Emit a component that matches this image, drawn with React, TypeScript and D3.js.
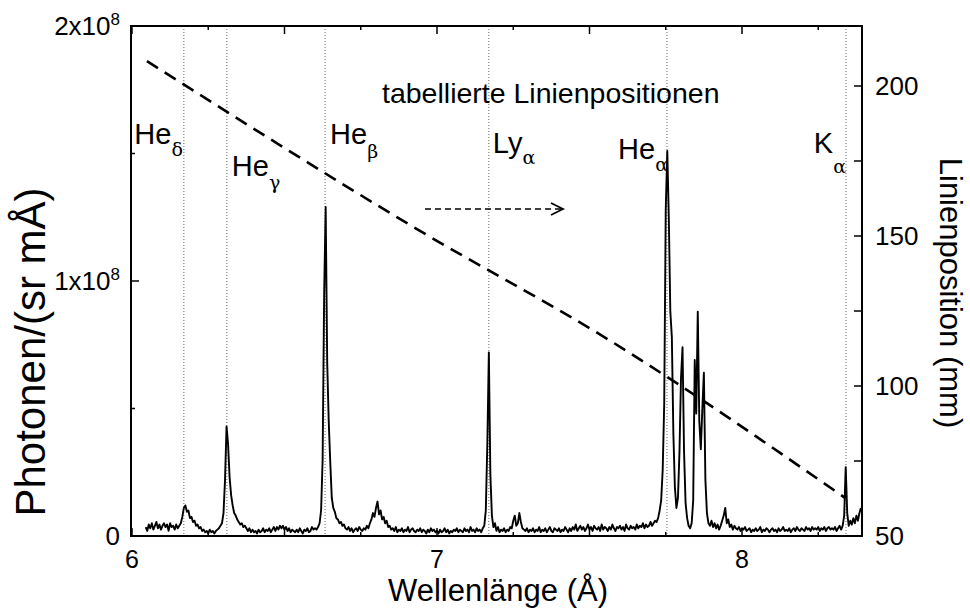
import React from 'react';
import * as d3 from 'd3';

const width = 970;
const height = 610;
const plot = { left: 131, right: 862, top: 26, bottom: 536 };

// spectrum sampled every 0.005 Å starting at 6.045 Å, values in 1e6 photons/(sr mÅ)
const spectrumStart = 6.045;
const spectrumStep = 0.005;
const spectrum = [
  3.5, 2.0, 4.5, 3.0, 5.0, 2.5, 4.0, 5.5, 3.0, 4.5, // 6.045
  2.5, 4.0, 5.0, 3.5, 4.5, 2.0, 5.0, 3.5, 4.0, 2.5, // 6.095
  4.5, 3.0, 4.0, 5.0, 7.5, 11.0, 12.0, 9.5, 10.0, 7.0, // 6.145
  7.5, 5.5, 6.0, 4.0, 4.5, 3.0, 3.5, 2.0, 2.5, 1.5, // 6.195
  2.0, 1.0, 2.5, 1.5, 2.0, 1.0, 2.0, 2.5, 3.0, 4.0, // 6.245
  5.0, 9.0, 22.0, 43.0, 36.0, 23.0, 16.0, 12.0, 9.0, 8.0, // 6.295
  6.5, 5.5, 4.5, 5.0, 3.5, 4.0, 3.0, 2.0, 3.0, 1.5, // 6.345
  2.5, 1.5, 2.0, 1.0, 2.5, 1.5, 2.0, 3.0, 1.5, 2.5, // 6.395
  2.0, 3.0, 1.5, 2.5, 3.5, 2.0, 3.5, 2.5, 4.0, 3.0, // 6.445
  4.0, 2.5, 3.5, 2.0, 3.0, 1.5, 2.5, 2.0, 1.5, 2.5, // 6.495
  1.5, 3.0, 2.0, 1.0, 2.5, 2.0, 3.0, 1.5, 2.0, 3.5, // 6.545
  2.5, 3.0, 2.5, 3.5, 5.0, 10.0, 30.0, 95.0, 129.0, 68.0, // 6.595
  45.0, 29.0, 15.0, 11.0, 9.5, 7.0, 6.5, 5.0, 5.5, 4.0, // 6.645
  4.5, 3.0, 2.5, 3.5, 2.0, 3.0, 1.5, 2.5, 3.0, 2.0, // 6.695
  3.5, 2.5, 2.0, 3.0, 2.5, 4.0, 3.0, 5.0, 6.5, 9.0, // 6.745
  7.5, 11.0, 13.5, 8.5, 10.0, 6.5, 7.5, 5.0, 6.0, 3.5, // 6.795
  4.0, 2.5, 3.0, 2.0, 3.5, 1.5, 2.5, 2.0, 3.0, 1.5, // 6.845
  2.5, 2.0, 3.5, 1.5, 2.5, 3.0, 2.0, 1.5, 2.5, 2.0, // 6.895
  3.0, 1.5, 2.5, 2.0, 1.0, 2.5, 1.5, 3.0, 2.0, 2.5, // 6.945
  1.5, 2.0, 1.0, 2.5, 1.5, 2.0, 3.0, 1.5, 2.5, 1.0, // 6.995
  2.0, 1.5, 2.5, 2.0, 3.0, 1.5, 2.5, 2.0, 1.5, 3.0, // 7.045
  2.0, 2.5, 1.5, 3.5, 2.0, 2.5, 1.5, 3.0, 2.0, 2.5, // 7.095
  1.5, 3.0, 4.0, 10.0, 36.0, 72.0, 24.0, 8.0, 3.5, 5.0, // 7.145
  2.0, 3.5, 1.5, 2.5, 2.0, 3.0, 1.5, 2.5, 2.0, 3.5, // 7.195
  3.0, 6.0, 8.0, 4.0, 5.0, 9.0, 5.5, 3.0, 2.5, 2.0, // 7.245
  3.0, 1.5, 2.5, 2.0, 3.0, 1.5, 2.5, 2.0, 3.5, 1.5, // 7.295
  2.5, 2.0, 3.0, 1.5, 2.5, 3.5, 2.0, 1.5, 3.0, 2.5, // 7.345
  2.0, 3.0, 1.5, 2.5, 2.0, 3.5, 2.5, 1.5, 3.0, 2.0, // 7.395
  3.5, 2.5, 4.5, 2.0, 3.0, 4.0, 2.5, 3.5, 2.0, 3.0, // 7.445
  4.5, 2.5, 3.5, 2.0, 4.0, 3.0, 2.5, 3.5, 2.0, 4.5, // 7.495
  2.5, 3.5, 3.0, 2.0, 3.5, 2.5, 4.5, 3.0, 2.0, 3.5, // 7.545
  3.0, 4.0, 2.5, 3.5, 2.0, 4.5, 3.0, 2.5, 4.0, 3.0, // 7.595
  3.5, 2.5, 4.5, 3.0, 4.0, 3.5, 5.0, 3.0, 4.5, 3.5, // 7.645
  4.0, 5.5, 4.0, 5.0, 6.0, 5.5, 7.0, 10.0, 14.0, 26.0, // 7.695
  52.0, 128.0, 151.0, 125.0, 88.0, 78.0, 40.0, 19.0, 11.0, 15.0, // 7.745
  33.0, 62.0, 74.0, 33.0, 13.0, 7.0, 4.0, 3.0, 5.0, 14.0, // 7.795
  69.0, 48.0, 88.0, 45.0, 34.0, 50.0, 64.0, 22.0, 9.0, 5.0, // 7.845
  4.0, 6.0, 3.5, 5.0, 3.0, 4.5, 2.5, 4.0, 6.0, 8.0, // 7.895
  11.0, 5.0, 6.5, 3.5, 4.5, 2.5, 4.0, 3.0, 2.5, 3.5, // 7.945
  2.0, 3.0, 2.5, 3.5, 2.0, 2.5, 3.0, 1.5, 2.5, 2.0, // 7.995
  3.0, 2.0, 2.5, 3.5, 1.5, 2.5, 2.0, 3.0, 2.5, 1.5, // 8.045
  2.5, 3.0, 2.0, 2.5, 1.5, 3.0, 2.0, 2.5, 3.5, 2.0, // 8.095
  2.5, 2.0, 3.0, 1.5, 2.5, 3.0, 2.0, 3.5, 2.5, 2.0, // 8.145
  3.0, 2.5, 2.0, 3.5, 2.5, 3.0, 2.0, 3.5, 2.5, 3.0, // 8.195
  2.5, 3.5, 2.0, 3.0, 2.5, 3.5, 2.0, 3.0, 3.5, 2.5, // 8.245
  3.0, 2.5, 3.5, 2.0, 3.0, 4.0, 2.5, 4.0, 8.0, 27.0, // 8.295
  9.0, 4.0, 6.0, 4.5, 7.0, 5.0, 8.0, 6.0, 9.0, 11.0, // 8.345
];

// dispersion: line position (mm) vs wavelength (Å)
const positionCurve: [number, number][] = [
  [6.049, 208.3],
  [6.921, 153.1],
  [7.574, 114.7],
  [8.338, 62.7],
];

// tabulated line positions
const lineNames = ['He', 'He', 'He', 'Ly', 'He', 'K'];
const lineSubs = ['δ', 'γ', 'β', 'α', 'α', 'α'];
const lineWavelengths = [6.17, 6.311, 6.633, 7.17, 7.754, 8.341];

const xMajorTicks = [6, 7, 8];
const yLeftTicks = [0, 0.5e8, 1e8, 1.5e8, 2e8];
const yLeftLabels = [
  { v: 0, base: '0', exp: '' },
  { v: 1e8, base: '1x10', exp: '8' },
  { v: 2e8, base: '2x10', exp: '8' },
];
const yRightTicks = [50, 75, 100, 125, 150, 175, 200];
const yRightLabels = [50, 100, 150, 200];

// label layout (pixel offsets for the annotations)
const labelLayout = [
  { anchor: 'end', dx: -1, y: 144, subDy: 12 },
  { anchor: 'start', dx: 5, y: 176, subDy: 13 },
  { anchor: 'start', dx: 5, y: 144, subDy: 14 },
  { anchor: 'start', dx: 4, y: 153, subDy: 11 },
  { anchor: 'end', dx: 1, y: 159, subDy: 12 },
  { anchor: 'end', dx: 0, y: 153, subDy: 20 },
];

const font = '"Liberation Sans", Arial, Helvetica, sans-serif';

export default function App() {
  const x = d3.scaleLinear().domain([6, 6 + (plot.right - plot.left - 1) / 305]).range([plot.left + 1, plot.right]);
  const y = d3.scaleLinear().domain([0, 2e8]).range([plot.bottom, plot.top]);
  const yR = d3.scaleLinear().domain([50, 50 + (plot.bottom - plot.top) / 3]).range([plot.bottom, plot.top]);

  const points = spectrum.map((v, i) => [spectrumStart + i * spectrumStep, v * 1e6] as [number, number]);
  const spectrumPath = d3
    .line<[number, number]>()
    .x(d => x(d[0]))
    .y(d => y(d[1]))(points);

  const positionPath = d3
    .line<[number, number]>()
    .x(d => x(d[0]))
    .y(d => yR(d[1]))
    .curve(d3.curveMonotoneX)(positionCurve);

  const xTicks = d3.range(6, 8.39, 0.25);

  const arrowY = 209;
  const arrowX0 = 425;
  const arrowX1 = 563;

  return (
    <svg
      width={width}
      height={height}
      style={{ position: 'absolute', left: 0, top: 0, background: '#fff' }}
      fontFamily={font}
    >
      <rect x={0} y={0} width={width} height={height} fill="#fff" />

      {/* tabulated line positions */}
      {lineWavelengths.map((w, i) => (
        <line
          key={'v' + i}
          x1={x(w)}
          x2={x(w)}
          y1={plot.top}
          y2={plot.bottom}
          stroke="#666"
          strokeWidth={1}
          strokeDasharray="1,2"
        />
      ))}

      {/* spectrum */}
      <path d={spectrumPath || ''} fill="none" stroke="#000" strokeWidth={1.9} strokeLinejoin="round" />

      {/* line position curve */}
      <path d={positionPath || ''} fill="none" stroke="#000" strokeWidth={2.6} strokeDasharray="13,8" />

      {/* arrow toward right axis */}
      <line x1={arrowX0} x2={arrowX1 - 2} y1={arrowY} y2={arrowY} stroke="#000" strokeWidth={1.5} strokeDasharray="6,4" />
      <polyline
        points={`${arrowX1 - 12},${arrowY - 6} ${arrowX1},${arrowY} ${arrowX1 - 12},${arrowY + 6}`}
        fill="none"
        stroke="#000"
        strokeWidth={1.8}
      />

      {/* frame */}
      <rect
        x={plot.left}
        y={plot.top}
        width={plot.right - plot.left}
        height={plot.bottom - plot.top}
        fill="none"
        stroke="#000"
        strokeWidth={2}
      />

      {/* x ticks top and bottom, inward */}
      {xTicks.map((t, i) => {
        const major = Math.abs(t * 2 - Math.round(t * 2)) < 1e-6;
        const len = major ? 8 : 4;
        return (
          <g key={'xt' + i}>
            <line x1={x(t)} x2={x(t)} y1={plot.top} y2={plot.top + len} stroke="#000" strokeWidth={1.5} />
            <line x1={x(t)} x2={x(t)} y1={plot.bottom} y2={plot.bottom - len} stroke="#000" strokeWidth={1.5} />
          </g>
        );
      })}
      {xMajorTicks.map(t => (
        <text key={'xl' + t} x={x(t)} y={568} textAnchor="middle" fontSize={25}>
          {t}
        </text>
      ))}

      {/* left ticks */}
      {yLeftTicks.map(t => (
        <line
          key={'yl' + t}
          x1={plot.left}
          x2={plot.left + (t === 1e8 ? 8 : 4)}
          y1={y(t)}
          y2={y(t)}
          stroke="#000"
          strokeWidth={1.5}
        />
      ))}
      {yLeftLabels.map(l => (
        <text key={'ylt' + l.v} x={120} y={y(l.v) + 9} textAnchor="end" fontSize={26}>
          {l.base}
          {l.exp && (
            <tspan fontSize={17} dy={-10}>
              {l.exp}
            </tspan>
          )}
        </text>
      ))}

      {/* right ticks */}
      {yRightTicks.map(t => (
        <line
          key={'yr' + t}
          x1={plot.right}
          x2={plot.right - 8}
          y1={yR(t)}
          y2={yR(t)}
          stroke="#000"
          strokeWidth={1.5}
        />
      ))}
      {yRightLabels.map(t => (
        <text key={'yrl' + t} x={875} y={yR(t) + 9} fontSize={26}>
          {t}
        </text>
      ))}

      {/* line labels */}
      {lineWavelengths.map((w, i) => {
        const l = labelLayout[i];
        return (
          <text key={'lab' + i} x={x(w) + l.dx} y={l.y} textAnchor={l.anchor as any} fontSize={29}>
            {lineNames[i]}
            <tspan fontSize={19} dy={l.subDy} fontFamily='"DejaVu Serif", serif'>
              {lineSubs[i]}
            </tspan>
          </text>
        );
      })}

      <text x={382} y={103} fontSize={28.5}>
        tabellierte Linienpositionen
      </text>

      {/* axis titles */}
      <text x={498} y={601} textAnchor="middle" fontSize={31}>
        Wellenlänge (Å)
      </text>
      <text transform="translate(45,352) rotate(-90)" textAnchor="middle" fontSize={42}>
        Photonen/(sr mÅ)
      </text>
      <text transform="translate(940,293) rotate(90)" textAnchor="middle" fontSize={31}>
        Linienposition (mm)
      </text>
    </svg>
  );
}
